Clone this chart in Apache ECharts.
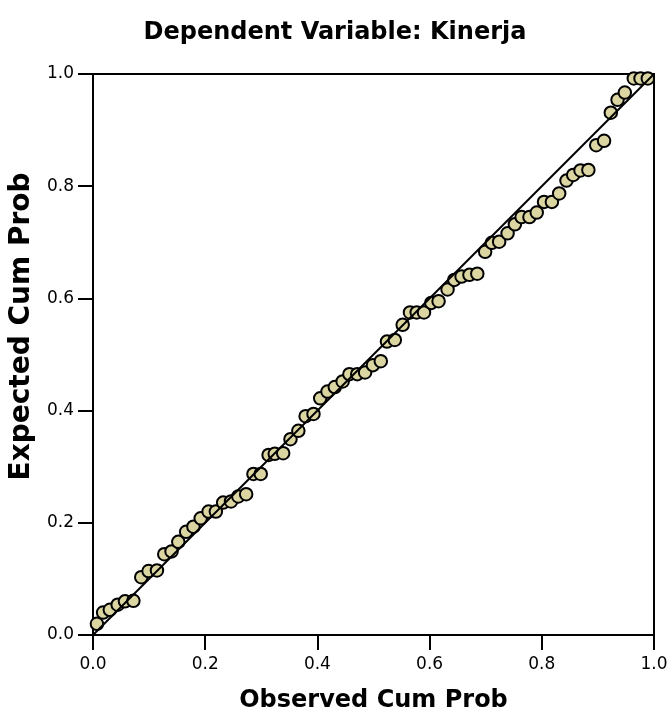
<!DOCTYPE html>
<html>
<head>
<meta charset="utf-8">
<script src="https://cdn.jsdelivr.net/npm/echarts@6/dist/echarts.min.js"></script>
<style>
  html, body { margin: 0; padding: 0; background: #fff; }
  #chart { width: 670px; height: 713px; }
</style>
</head>
<body>
<div id="chart"></div>
<script>
// observed cum prob (x) and expected cum prob (y)
var observed = [0.007, 0.018, 0.030, 0.044, 0.057, 0.072, 0.086, 0.099, 0.114, 0.127,
  0.140, 0.152, 0.166, 0.179, 0.192, 0.206, 0.219, 0.232, 0.246, 0.259,
  0.273, 0.286, 0.299, 0.313, 0.324, 0.339, 0.352, 0.366, 0.379, 0.393,
  0.405, 0.418, 0.431, 0.445, 0.457, 0.471, 0.485, 0.499, 0.513, 0.524,
  0.538, 0.552, 0.565, 0.577, 0.590, 0.603, 0.616, 0.632, 0.644, 0.657,
  0.671, 0.685, 0.699, 0.711, 0.724, 0.739, 0.752, 0.764, 0.778, 0.791,
  0.804, 0.818, 0.831, 0.844, 0.856, 0.869, 0.883, 0.897, 0.911, 0.923,
  0.935, 0.948, 0.964, 0.976, 0.989];
var expected = [0.020, 0.040, 0.045, 0.054, 0.060, 0.061, 0.103, 0.114, 0.115, 0.144,
  0.149, 0.166, 0.184, 0.193, 0.208, 0.220, 0.220, 0.236, 0.238, 0.247,
  0.251, 0.287, 0.287, 0.321, 0.323, 0.324, 0.349, 0.364, 0.390, 0.394,
  0.422, 0.434, 0.442, 0.452, 0.465, 0.465, 0.468, 0.481, 0.488, 0.523,
  0.526, 0.553, 0.575, 0.575, 0.575, 0.592, 0.595, 0.616, 0.633, 0.639,
  0.642, 0.644, 0.683, 0.699, 0.701, 0.716, 0.732, 0.745, 0.745, 0.753,
  0.772, 0.772, 0.787, 0.810, 0.820, 0.828, 0.829, 0.873, 0.881, 0.931,
  0.954, 0.967, 0.992, 0.992, 0.992];
var refLine = [[0, 0], [1, 1]];
var ticks = ['0.0', '0.2', '0.4', '0.6', '0.8', '1.0'];

var points = [];
for (var i = 0; i < observed.length; i++) {
  points.push([observed[i], expected[i]]);
}

var font = '"DejaVu Sans", "Liberation Sans", Arial, sans-serif';

function axisOpt(name, gap, nameSize, labelMargin, namePad) {
  return {
    type: 'value', min: 0, max: 1, interval: 0.2,
    name: name, nameLocation: 'middle', nameGap: gap,
    nameTextStyle: { fontFamily: font, fontSize: nameSize, fontWeight: 'bold', color: '#000', padding: namePad },
    axisLine: { show: true, lineStyle: { color: '#000', width: 2 } },
    axisTick: { show: true, inside: false, length: 15, lineStyle: { color: '#000', width: 2 } },
    axisLabel: {
      fontFamily: font, fontSize: 17, color: '#000', margin: labelMargin,
      formatter: function (v) { return ticks[Math.round(v * 5)]; }
    },
    splitLine: { show: false }
  };
}

var chart = echarts.init(document.getElementById('chart'));
chart.setOption({
  animation: false,
  backgroundColor: '#fff',
  title: {
    text: 'Dependent Variable: Kinerja',
    left: 'center', top: 16,
    textStyle: { fontFamily: font, fontSize: 24, fontWeight: 'bold', color: '#000' }
  },
  grid: {
    left: 93, top: 74, width: 561, height: 561,
    outerBoundsMode: 'none', containLabel: false,
    show: true, borderColor: '#000', borderWidth: 2, backgroundColor: '#fff'
  },
  xAxis: axisOpt('Observed Cum Prob', 54, 24, 21, [0, 0, 0, 0]),
  yAxis: axisOpt('Expected Cum Prob', 57, 28, 19, [0, 0, 0, 56]),
  series: [
    {
      type: 'scatter',
      data: points,
      symbol: 'circle',
      symbolSize: 12.5,
      itemStyle: { color: '#dbd5a2', borderColor: '#000', borderWidth: 2, opacity: 1 },
      z: 2
    },
    {
      type: 'line',
      data: refLine,
      symbol: 'none',
      lineStyle: { color: '#000', width: 2 },
      z: 3
    }
  ]
});
</script>
</body>
</html>
